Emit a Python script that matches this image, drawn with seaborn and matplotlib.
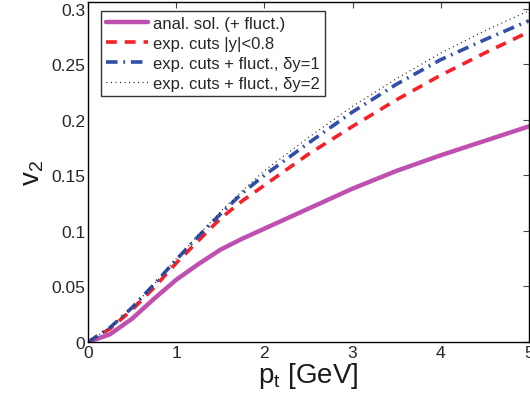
import numpy as np
import pandas as pd
import matplotlib
matplotlib.use("Agg")
import matplotlib.pyplot as plt
import seaborn as sns

# transverse momentum grid [GeV]
pt = [0, 0.25, 0.5, 0.75, 1.0, 1.25, 1.5, 1.75, 2.0, 2.5, 3.0, 3.5, 4.0, 4.5, 5.0]

# v2 curves
v2_anal = [0, 0.007, 0.021, 0.039, 0.056, 0.070, 0.083, 0.093, 0.102, 0.120, 0.138, 0.154, 0.168, 0.181, 0.194]
v2_cuts = [0, 0.012, 0.029, 0.049, 0.071, 0.091, 0.111, 0.127, 0.141, 0.169, 0.194, 0.218, 0.240, 0.260, 0.279]
v2_dy1 = [0, 0.013, 0.031, 0.052, 0.074, 0.095, 0.115, 0.134, 0.150, 0.179, 0.207, 0.232, 0.254, 0.272, 0.289]
v2_dy2 = [0, 0.013, 0.031, 0.052, 0.075, 0.096, 0.117, 0.136, 0.154, 0.184, 0.212, 0.237, 0.260, 0.280, 0.298]

labels = ["anal. sol. (+ fluct.)",
          "exp. cuts |y|<0.8",
          "exp. cuts + fluct., \u03b4y=1",
          "exp. cuts + fluct., \u03b4y=2"]

sns.set_style("white")
plt.rcParams['font.family'] = ['Liberation Sans', 'DejaVu Sans']
plt.rcParams['xtick.direction'] = 'in'
plt.rcParams['ytick.direction'] = 'in'

fig = plt.figure(figsize=(5.3, 4.06), dpi=100)
ax = fig.add_axes([0.166, 0.155, 0.832, 0.838])

df = pd.DataFrame({"pt": pt, "anal": v2_anal, "cuts": v2_cuts, "dy1": v2_dy1, "dy2": v2_dy2})

sns.lineplot(data=df, x="pt", y="anal", ax=ax, color="#c050b0", lw=3.2, label=labels[0])
sns.lineplot(data=df, x="pt", y="cuts", ax=ax, color="#f52028", lw=2.6, label=labels[1])
ax.lines[-1].set_dashes([3, 2.2])
sns.lineplot(data=df, x="pt", y="dy1", ax=ax, color="#2f4fa8", lw=2.6, label=labels[2])
ax.lines[-1].set_dashes([3.2, 1.6, 0.5, 1.6])
sns.lineplot(data=df, x="pt", y="dy2", ax=ax, color="#222222", lw=0.9, label=labels[3])
ax.lines[-1].set_dashes([0.8, 2.8])

ax.set_xlim(0, 5)
ax.set_ylim(0, 0.306)
ax.set_xticks([0, 1, 2, 3, 4, 5])
ax.set_yticks([0, 0.05, 0.1, 0.15, 0.2, 0.25, 0.3])
ax.set_yticklabels(["0", "0.05", "0.1", "0.15", "0.2", "0.25", "0.3"])
ax.tick_params(axis="both", labelsize=12.5, length=4, width=0.8, color="#444444",
               labelcolor="#262626", top=True, right=True, pad=2)
for s in ax.spines.values():
    s.set_linewidth(1.0)
    s.set_color("black")

ax.set_xlabel("p$_\\mathregular{t}$ [GeV]", fontsize=20, labelpad=0, color="#1a1a1a")
ax.set_ylabel("v$_\\mathregular{2}$", fontsize=20, labelpad=4, color="#1a1a1a")

leg = ax.legend(loc="upper left", fontsize=12, frameon=True, fancybox=False,
                handlelength=2.5, handletextpad=0.35, borderpad=0.3,
                labelspacing=0.3, borderaxespad=0.0, bbox_to_anchor=(0.0295, 0.974))
leg.get_frame().set_edgecolor("black")
leg.get_frame().set_linewidth(1.0)

fig.savefig("out.png", dpi=100)
